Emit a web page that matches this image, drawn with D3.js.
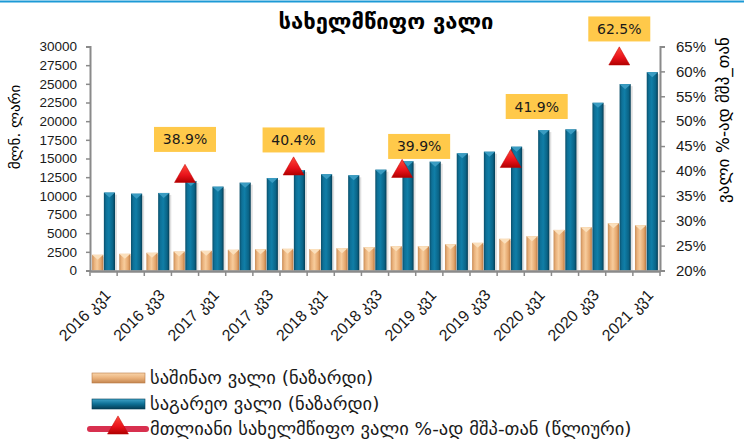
<!DOCTYPE html>
<html>
<head>
<meta charset="utf-8">
<script src="https://cdn.jsdelivr.net/npm/d3@7"></script>
<style>
  body { margin: 0; background: #fff; }
  svg { display: block; font-family: "DejaVu Sans", sans-serif; }
</style>
</head>
<body>
<svg width="750" height="439"></svg>
<script>
// quarters
const quarters = ["2016 კვ1", "2016 კვ2", "2016 კვ3", "2016 კვ4",
  "2017 კვ1", "2017 კვ2", "2017 კვ3", "2017 კვ4",
  "2018 კვ1", "2018 კვ2", "2018 კვ3", "2018 კვ4",
  "2019 კვ1", "2019 კვ2", "2019 კვ3", "2019 კვ4",
  "2020 კვ1", "2020 კვ2", "2020 კვ3", "2020 კვ4",
  "2021 კვ1"];

// mln GEL
const domesticDebt = [2100, 2230, 2370, 2540, 2630, 2770, 2860, 2900, 2880, 2990, 3130,
  3260, 3260, 3530, 3700, 4240, 4600, 5440, 5800, 6340, 6070];
const externalDebt = [10430, 10290, 10390, 11990, 11230, 11760, 12390, 13460, 12890, 12750, 13500,
  14620, 14570, 15690, 15910, 16580, 18810, 18900, 22460, 24960, 26560];
// % of GDP, annual (only Q4)
const debtToGdp = [null, null, null, 38.9, null, null, null, 40.4, null, null, null,
  39.9, null, null, null, 41.9, null, null, null, 62.5, null];

const leftTicks = [0, 2500, 5000, 7500, 10000, 12500, 15000, 17500, 20000, 22500, 25000, 27500, 30000];
const rightTicks = [20, 25, 30, 35, 40, 45, 50, 55, 60, 65];

const seriesNames = ["საშინაო ვალი (ნაზარდი)", "საგარეო ვალი (ნაზარდი)",
  "მთლიანი სახელმწიფო ვალი %-ად მშპ-თან (წლიური)"];

// where each yellow label box sits relative to its marker (dx, dy), like in the original
const labelShift = [[0, -37], [0, -29], [17, -25], [26, -55], [0, -30]];

var svg = d3.select("svg");
var defs = svg.append("defs");

function hGrad(id, stops) {
  var g = defs.append("linearGradient").attr("id", id)
    .attr("x1", 0).attr("x2", 1).attr("y1", 0).attr("y2", 0);
  stops.forEach(s => g.append("stop").attr("offset", s[0]).attr("stop-color", s[1]));
}
function vGrad(id, stops) {
  var g = defs.append("linearGradient").attr("id", id)
    .attr("x1", 0).attr("x2", 0).attr("y1", 0).attr("y2", 1);
  stops.forEach(s => g.append("stop").attr("offset", s[0]).attr("stop-color", s[1]));
}
hGrad("gOrange", [[0, "#c98d57"], [0.2, "#eab27c"], [0.45, "#f7cc9c"], [0.8, "#e4a56b"], [1, "#b97a45"]]);
hGrad("gBlue", [[0, "#0a4f6a"], [0.2, "#0e7198"], [0.45, "#107ea7"], [0.8, "#0a6487"], [1, "#053d55"]]);
vGrad("gOrangeL", [[0, "#f9d5ab"], [0.5, "#eab27c"], [1, "#c48650"]]);
vGrad("gBlueL", [[0, "#3fa3c8"], [0.5, "#0d6f94"], [1, "#053d55"]]);
vGrad("gRed", [[0, "#ff4a3a"], [0.6, "#e8121a"], [1, "#b00000"]]);

// top border line
svg.append("line")
  .attr("x1", 0).attr("x2", 744).attr("y1", 1.5).attr("y2", 1.5)
  .attr("stroke", "#1c9ad6").attr("stroke-width", 2);

// title
svg.append("text")
  .attr("x", 386).attr("y", 29)
  .attr("text-anchor", "middle")
  .style("font-size", "22px").style("font-weight", "bold")
  .text("სახელმწიფო ვალი");

var x = d3.scaleBand().domain(quarters).range([90, 660]).padding(0);
var xSub = d3.scaleBand().domain(["dom", "ext"]).range([0, x.bandwidth()])
  .paddingInner(0.05).paddingOuter(0.18);
var y = d3.scaleLinear().domain([0, 30000]).range([270.5, 46.5]);
var yR = d3.scaleLinear().domain([20, 65]).range([270.5, 46.5]);

// bars
var rows = quarters.map((q, i) => ({q: q, dom: domesticDebt[i], ext: externalDebt[i], pct: debtToGdp[i]}));

function drawBars(key, fill, tipColor) {
  var g = svg.append("g");
  // soft shadow
  g.selectAll("rect.sh").data(rows).enter().append("rect")
    .attr("x", d => x(d.q) + xSub(key) + 2)
    .attr("y", d => y(d[key]) + 2)
    .attr("width", xSub.bandwidth())
    .attr("height", d => y(0) - y(d[key]) - 2)
    .attr("fill", "#000").attr("opacity", 0.12);
  g.selectAll("rect.b").data(rows).enter().append("rect")
    .attr("x", d => x(d.q) + xSub(key))
    .attr("y", d => y(d[key]))
    .attr("width", xSub.bandwidth())
    .attr("height", d => y(0) - y(d[key]))
    .attr("fill", fill);
  // bevel at the top
  g.selectAll("path.t").data(rows).enter().append("path")
    .attr("d", d => {
      var x0 = x(d.q) + xSub(key), w = xSub.bandwidth(), y0 = y(d[key]);
      return `M${x0},${y0}L${x0 + w},${y0}L${x0 + w / 2},${y0 + 5}Z`;
    })
    .attr("fill", tipColor);
}
drawBars("dom", "url(#gOrange)", "#fbe0bd");
drawBars("ext", "url(#gBlue)", "#3a9cc2");

// left axis
var gl = svg.append("g").attr("transform", "translate(90,0)")
  .call(d3.axisLeft(y).tickValues(leftTicks).tickFormat(d3.format("d")).tickSize(4).tickPadding(9));
gl.selectAll("text").style("font-size", "13.5px").attr("fill", "#1a1a1a");

// right axis
var gr = svg.append("g").attr("transform", "translate(660,0)")
  .call(d3.axisRight(yR).tickValues(rightTicks).tickFormat(d => d + "%").tickSize(5).tickPadding(11));
gr.selectAll("text").style("font-size", "15px").attr("fill", "#1a1a1a");

// x axis
var gx = svg.append("g").attr("transform", "translate(0,271)")
  .call(d3.axisBottom(x).tickSize(0).tickPadding(0).tickFormat((d, i) => i % 2 === 0 ? d : ""));
gx.selectAll("text")
  .style("font-size", "16px").attr("fill", "#1a1a1a")
  .attr("text-anchor", "end")
  .attr("transform", "translate(4,21) rotate(-45)")
  .attr("dy", "0.35em");
var bounds = quarters.map(q => x(q)).concat([x.range()[1]]);
gx.selectAll("line.bt").data(bounds).enter().append("line")
  .attr("x1", d => d).attr("x2", d => d).attr("y1", 0).attr("y2", 5);

[gl, gr, gx].forEach(g => {
  g.selectAll("path.domain").attr("stroke", "#8a8a8a").attr("stroke-width", 2);
  g.selectAll("line").attr("stroke", "#8a8a8a").attr("stroke-width", 1.5);
});
gx.select("path.domain").attr("stroke-width", 2.5);

// axis titles
svg.append("text")
  .attr("transform", "translate(20,127) rotate(-90)")
  .attr("text-anchor", "middle")
  .style("font-size", "15px")
  .text("მლნ. ლარი");
svg.append("text")
  .attr("transform", "translate(729,120) rotate(-90)")
  .attr("text-anchor", "middle")
  .style("font-size", "17px")
  .text("ვალი %-ად მშპ_თან");

// annual markers with labels
var tri = d3.symbol().type(d3.symbolTriangle).size(190);
var pts = rows.filter(d => d.pct !== null);
svg.selectAll("path.mk").data(pts).enter().append("path")
  .attr("transform", d => `translate(${x(d.q) + x.bandwidth() / 2},${yR(d.pct)})`)
  .attr("d", tri)
  .attr("fill", "url(#gRed)").attr("stroke", "#c00000").attr("stroke-width", 0.5);

var lab = svg.selectAll("g.lab").data(pts).enter().append("g")
  .attr("transform", (d, i) => `translate(${x(d.q) + x.bandwidth() / 2 + labelShift[i][0]},${yR(d.pct) + labelShift[i][1]})`);
lab.append("rect")
  .attr("x", -31).attr("y", -12.5).attr("width", 62).attr("height", 25)
  .attr("fill", "#ffc94a");
lab.append("text")
  .attr("text-anchor", "middle").attr("dy", "0.36em")
  .style("font-size", "14px").attr("fill", "#1a1a1a")
  .text(d => d.pct.toFixed(1) + "%");

// legend
var lg = svg.append("g");
var legendY = [378, 404, 429];
[["url(#gOrangeL)", "#b87a45"], ["url(#gBlueL)", "#053d55"]].forEach((c, i) => {
  lg.append("rect")
    .attr("x", 92).attr("y", legendY[i] - 5).attr("width", 53).attr("height", 10)
    .attr("fill", c[0]).attr("stroke", c[1]).attr("stroke-width", 0.6);
});
lg.append("line")
  .attr("x1", 90).attr("x2", 146).attr("y1", legendY[2]).attr("y2", legendY[2])
  .attr("stroke", "#d8304f").attr("stroke-width", 6).attr("stroke-linecap", "round");
lg.append("path")
  .attr("transform", `translate(118,${legendY[2] - 1})`)
  .attr("d", tri)
  .attr("fill", "url(#gRed)").attr("stroke", "#c00000").attr("stroke-width", 0.5);
lg.selectAll("text").data(seriesNames).enter().append("text")
  .attr("x", 150).attr("y", (d, i) => legendY[i])
  .attr("dy", "0.35em")
  .style("font-size", "18.5px").attr("fill", "#1a1a1a")
  .text(d => d);
</script>
</body>
</html>
